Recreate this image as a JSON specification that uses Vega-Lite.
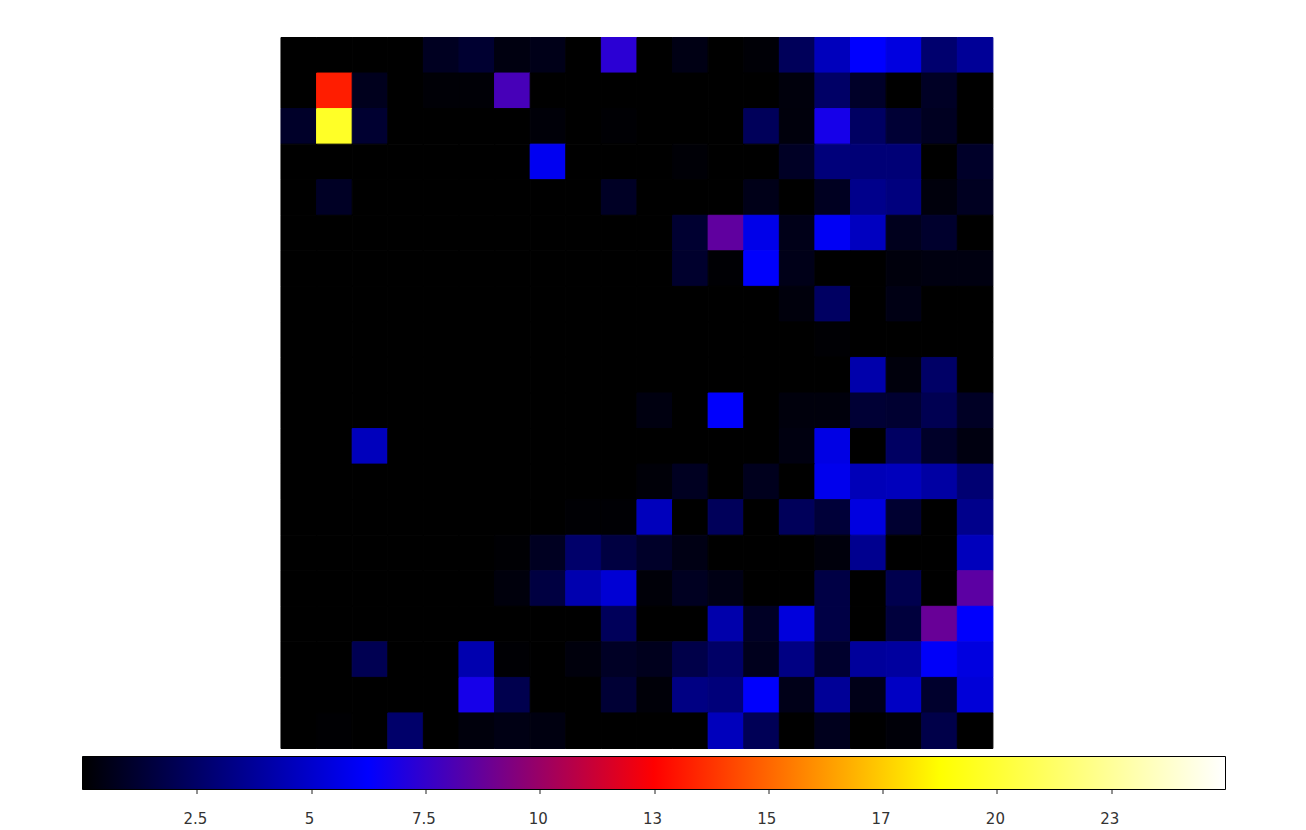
{
"$schema":"https://vega.github.io/schema/vega-lite/v6.json",
"background":"white",
"padding":{"left":81.5,"top":36.5,"right":0,"bottom":0},
"spacing":6,
"config":{"view":{"stroke":null}},
"vconcat":[
{"width":1143,"height":711,
"data":{"values":[
{"r":0,"c":0,"v":0},{"r":0,"c":1,"v":0},{"r":0,"c":2,"v":0},{"r":0,"c":3,"v":0},{"r":0,"c":4,"v":0.8},{"r":0,"c":5,"v":1.2},{"r":0,"c":6,"v":0.4},{"r":0,"c":7,"v":0.6},{"r":0,"c":8,"v":0},{"r":0,"c":9,"v":7.3},{"r":0,"c":10,"v":0},{"r":0,"c":11,"v":0.5},{"r":0,"c":12,"v":0},{"r":0,"c":13,"v":0.15},{"r":0,"c":14,"v":2.2},{"r":0,"c":15,"v":4.6},{"r":0,"c":16,"v":6.25},{"r":0,"c":17,"v":5.5},{"r":0,"c":18,"v":2.7},{"r":0,"c":19,"v":3.7},
{"r":1,"c":0,"v":0},{"r":1,"c":1,"v":13.2},{"r":1,"c":2,"v":0.7},{"r":1,"c":3,"v":0},{"r":1,"c":4,"v":0.15},{"r":1,"c":5,"v":0.15},{"r":1,"c":6,"v":8},{"r":1,"c":7,"v":0},{"r":1,"c":8,"v":0},{"r":1,"c":9,"v":0},{"r":1,"c":10,"v":0},{"r":1,"c":11,"v":0},{"r":1,"c":12,"v":0},{"r":1,"c":13,"v":0},{"r":1,"c":14,"v":0.3},{"r":1,"c":15,"v":2.5},{"r":1,"c":16,"v":1},{"r":1,"c":17,"v":0},{"r":1,"c":18,"v":0.9},{"r":1,"c":19,"v":0},
{"r":2,"c":0,"v":1},{"r":2,"c":1,"v":19.7},{"r":2,"c":2,"v":1.2},{"r":2,"c":3,"v":0},{"r":2,"c":4,"v":0},{"r":2,"c":5,"v":0},{"r":2,"c":6,"v":0},{"r":2,"c":7,"v":0.2},{"r":2,"c":8,"v":0},{"r":2,"c":9,"v":0.1},{"r":2,"c":10,"v":0},{"r":2,"c":11,"v":0},{"r":2,"c":12,"v":0},{"r":2,"c":13,"v":2.2},{"r":2,"c":14,"v":0.3},{"r":2,"c":15,"v":6.8},{"r":2,"c":16,"v":2.4},{"r":2,"c":17,"v":1.3},{"r":2,"c":18,"v":0.8},{"r":2,"c":19,"v":0},
{"r":3,"c":0,"v":0},{"r":3,"c":1,"v":0},{"r":3,"c":2,"v":0},{"r":3,"c":3,"v":0},{"r":3,"c":4,"v":0},{"r":3,"c":5,"v":0},{"r":3,"c":6,"v":0},{"r":3,"c":7,"v":5.9},{"r":3,"c":8,"v":0},{"r":3,"c":9,"v":0},{"r":3,"c":10,"v":0},{"r":3,"c":11,"v":0.15},{"r":3,"c":12,"v":0},{"r":3,"c":13,"v":0},{"r":3,"c":14,"v":0.9},{"r":3,"c":15,"v":3},{"r":3,"c":16,"v":2.9},{"r":3,"c":17,"v":2.9},{"r":3,"c":18,"v":0},{"r":3,"c":19,"v":1},
{"r":4,"c":0,"v":0},{"r":4,"c":1,"v":0.9},{"r":4,"c":2,"v":0},{"r":4,"c":3,"v":0},{"r":4,"c":4,"v":0},{"r":4,"c":5,"v":0},{"r":4,"c":6,"v":0},{"r":4,"c":7,"v":0},{"r":4,"c":8,"v":0},{"r":4,"c":9,"v":0.9},{"r":4,"c":10,"v":0},{"r":4,"c":11,"v":0},{"r":4,"c":12,"v":0},{"r":4,"c":13,"v":0.6},{"r":4,"c":14,"v":0},{"r":4,"c":15,"v":0.8},{"r":4,"c":16,"v":3.4},{"r":4,"c":17,"v":3.1},{"r":4,"c":18,"v":0.3},{"r":4,"c":19,"v":0.8},
{"r":5,"c":0,"v":0},{"r":5,"c":1,"v":0},{"r":5,"c":2,"v":0},{"r":5,"c":3,"v":0},{"r":5,"c":4,"v":0},{"r":5,"c":5,"v":0},{"r":5,"c":6,"v":0},{"r":5,"c":7,"v":0},{"r":5,"c":8,"v":0},{"r":5,"c":9,"v":0},{"r":5,"c":10,"v":0},{"r":5,"c":11,"v":1.2},{"r":5,"c":12,"v":8.6},{"r":5,"c":13,"v":5.7},{"r":5,"c":14,"v":0.6},{"r":5,"c":15,"v":6},{"r":5,"c":16,"v":4.7},{"r":5,"c":17,"v":0.7},{"r":5,"c":18,"v":1.1},{"r":5,"c":19,"v":0},
{"r":6,"c":0,"v":0},{"r":6,"c":1,"v":0},{"r":6,"c":2,"v":0},{"r":6,"c":3,"v":0},{"r":6,"c":4,"v":0},{"r":6,"c":5,"v":0},{"r":6,"c":6,"v":0},{"r":6,"c":7,"v":0},{"r":6,"c":8,"v":0},{"r":6,"c":9,"v":0},{"r":6,"c":10,"v":0},{"r":6,"c":11,"v":1.1},{"r":6,"c":12,"v":0.1},{"r":6,"c":13,"v":6.2},{"r":6,"c":14,"v":0.6},{"r":6,"c":15,"v":0},{"r":6,"c":16,"v":0},{"r":6,"c":17,"v":0.3},{"r":6,"c":18,"v":0.4},{"r":6,"c":19,"v":0.4},
{"r":7,"c":0,"v":0},{"r":7,"c":1,"v":0},{"r":7,"c":2,"v":0},{"r":7,"c":3,"v":0},{"r":7,"c":4,"v":0},{"r":7,"c":5,"v":0},{"r":7,"c":6,"v":0},{"r":7,"c":7,"v":0},{"r":7,"c":8,"v":0},{"r":7,"c":9,"v":0},{"r":7,"c":10,"v":0},{"r":7,"c":11,"v":0},{"r":7,"c":12,"v":0},{"r":7,"c":13,"v":0},{"r":7,"c":14,"v":0.3},{"r":7,"c":15,"v":2.4},{"r":7,"c":16,"v":0},{"r":7,"c":17,"v":0.5},{"r":7,"c":18,"v":0},{"r":7,"c":19,"v":0},
{"r":8,"c":0,"v":0},{"r":8,"c":1,"v":0},{"r":8,"c":2,"v":0},{"r":8,"c":3,"v":0},{"r":8,"c":4,"v":0},{"r":8,"c":5,"v":0},{"r":8,"c":6,"v":0},{"r":8,"c":7,"v":0},{"r":8,"c":8,"v":0},{"r":8,"c":9,"v":0},{"r":8,"c":10,"v":0},{"r":8,"c":11,"v":0},{"r":8,"c":12,"v":0},{"r":8,"c":13,"v":0},{"r":8,"c":14,"v":0},{"r":8,"c":15,"v":0.1},{"r":8,"c":16,"v":0},{"r":8,"c":17,"v":0},{"r":8,"c":18,"v":0},{"r":8,"c":19,"v":0},
{"r":9,"c":0,"v":0},{"r":9,"c":1,"v":0},{"r":9,"c":2,"v":0},{"r":9,"c":3,"v":0},{"r":9,"c":4,"v":0},{"r":9,"c":5,"v":0},{"r":9,"c":6,"v":0},{"r":9,"c":7,"v":0},{"r":9,"c":8,"v":0},{"r":9,"c":9,"v":0},{"r":9,"c":10,"v":0},{"r":9,"c":11,"v":0},{"r":9,"c":12,"v":0},{"r":9,"c":13,"v":0},{"r":9,"c":14,"v":0},{"r":9,"c":15,"v":0},{"r":9,"c":16,"v":4.2},{"r":9,"c":17,"v":0.3},{"r":9,"c":18,"v":2.5},{"r":9,"c":19,"v":0},
{"r":10,"c":0,"v":0},{"r":10,"c":1,"v":0},{"r":10,"c":2,"v":0},{"r":10,"c":3,"v":0},{"r":10,"c":4,"v":0},{"r":10,"c":5,"v":0},{"r":10,"c":6,"v":0},{"r":10,"c":7,"v":0},{"r":10,"c":8,"v":0},{"r":10,"c":9,"v":0},{"r":10,"c":10,"v":0.4},{"r":10,"c":11,"v":0},{"r":10,"c":12,"v":6.2},{"r":10,"c":13,"v":0},{"r":10,"c":14,"v":0.3},{"r":10,"c":15,"v":0.3},{"r":10,"c":16,"v":1.3},{"r":10,"c":17,"v":1.2},{"r":10,"c":18,"v":2},{"r":10,"c":19,"v":0.9},
{"r":11,"c":0,"v":0},{"r":11,"c":1,"v":0},{"r":11,"c":2,"v":4.6},{"r":11,"c":3,"v":0},{"r":11,"c":4,"v":0},{"r":11,"c":5,"v":0},{"r":11,"c":6,"v":0},{"r":11,"c":7,"v":0},{"r":11,"c":8,"v":0},{"r":11,"c":9,"v":0},{"r":11,"c":10,"v":0},{"r":11,"c":11,"v":0},{"r":11,"c":12,"v":0},{"r":11,"c":13,"v":0},{"r":11,"c":14,"v":0.4},{"r":11,"c":15,"v":5.6},{"r":11,"c":16,"v":0},{"r":11,"c":17,"v":2.4},{"r":11,"c":18,"v":1},{"r":11,"c":19,"v":0.4},
{"r":12,"c":0,"v":0},{"r":12,"c":1,"v":0},{"r":12,"c":2,"v":0},{"r":12,"c":3,"v":0},{"r":12,"c":4,"v":0},{"r":12,"c":5,"v":0},{"r":12,"c":6,"v":0},{"r":12,"c":7,"v":0},{"r":12,"c":8,"v":0},{"r":12,"c":9,"v":0},{"r":12,"c":10,"v":0.2},{"r":12,"c":11,"v":0.8},{"r":12,"c":12,"v":0},{"r":12,"c":13,"v":0.7},{"r":12,"c":14,"v":0},{"r":12,"c":15,"v":5.8},{"r":12,"c":16,"v":4.5},{"r":12,"c":17,"v":4.6},{"r":12,"c":18,"v":4},{"r":12,"c":19,"v":2.8},
{"r":13,"c":0,"v":0},{"r":13,"c":1,"v":0},{"r":13,"c":2,"v":0},{"r":13,"c":3,"v":0},{"r":13,"c":4,"v":0},{"r":13,"c":5,"v":0},{"r":13,"c":6,"v":0},{"r":13,"c":7,"v":0},{"r":13,"c":8,"v":0.1},{"r":13,"c":9,"v":0.1},{"r":13,"c":10,"v":4.6},{"r":13,"c":11,"v":0},{"r":13,"c":12,"v":2.2},{"r":13,"c":13,"v":0},{"r":13,"c":14,"v":2.2},{"r":13,"c":15,"v":1.4},{"r":13,"c":16,"v":5.5},{"r":13,"c":17,"v":1.2},{"r":13,"c":18,"v":0},{"r":13,"c":19,"v":3.4},
{"r":14,"c":0,"v":0},{"r":14,"c":1,"v":0},{"r":14,"c":2,"v":0},{"r":14,"c":3,"v":0},{"r":14,"c":4,"v":0},{"r":14,"c":5,"v":0},{"r":14,"c":6,"v":0.1},{"r":14,"c":7,"v":0.8},{"r":14,"c":8,"v":2.6},{"r":14,"c":9,"v":1.6},{"r":14,"c":10,"v":1},{"r":14,"c":11,"v":0.5},{"r":14,"c":12,"v":0},{"r":14,"c":13,"v":0},{"r":14,"c":14,"v":0},{"r":14,"c":15,"v":0.3},{"r":14,"c":16,"v":3.5},{"r":14,"c":17,"v":0},{"r":14,"c":18,"v":0},{"r":14,"c":19,"v":4.6},
{"r":15,"c":0,"v":0},{"r":15,"c":1,"v":0},{"r":15,"c":2,"v":0},{"r":15,"c":3,"v":0},{"r":15,"c":4,"v":0},{"r":15,"c":5,"v":0},{"r":15,"c":6,"v":0.3},{"r":15,"c":7,"v":1.6},{"r":15,"c":8,"v":4.3},{"r":15,"c":9,"v":5.2},{"r":15,"c":10,"v":0.2},{"r":15,"c":11,"v":0.8},{"r":15,"c":12,"v":0.5},{"r":15,"c":13,"v":0},{"r":15,"c":14,"v":0},{"r":15,"c":15,"v":1.7},{"r":15,"c":16,"v":0},{"r":15,"c":17,"v":1.9},{"r":15,"c":18,"v":0},{"r":15,"c":19,"v":8.5},
{"r":16,"c":0,"v":0},{"r":16,"c":1,"v":0},{"r":16,"c":2,"v":0},{"r":16,"c":3,"v":0},{"r":16,"c":4,"v":0},{"r":16,"c":5,"v":0},{"r":16,"c":6,"v":0},{"r":16,"c":7,"v":0},{"r":16,"c":8,"v":0},{"r":16,"c":9,"v":2.2},{"r":16,"c":10,"v":0},{"r":16,"c":11,"v":0},{"r":16,"c":12,"v":4.2},{"r":16,"c":13,"v":0.9},{"r":16,"c":14,"v":5.4},{"r":16,"c":15,"v":1.7},{"r":16,"c":16,"v":0},{"r":16,"c":17,"v":1.5},{"r":16,"c":18,"v":8.8},{"r":16,"c":19,"v":6.2},
{"r":17,"c":0,"v":0},{"r":17,"c":1,"v":0},{"r":17,"c":2,"v":2},{"r":17,"c":3,"v":0},{"r":17,"c":4,"v":0},{"r":17,"c":5,"v":4.3},{"r":17,"c":6,"v":0.1},{"r":17,"c":7,"v":0},{"r":17,"c":8,"v":0.3},{"r":17,"c":9,"v":0.9},{"r":17,"c":10,"v":0.7},{"r":17,"c":11,"v":1.8},{"r":17,"c":12,"v":2.5},{"r":17,"c":13,"v":0.7},{"r":17,"c":14,"v":3.2},{"r":17,"c":15,"v":1.1},{"r":17,"c":16,"v":3.8},{"r":17,"c":17,"v":3.9},{"r":17,"c":18,"v":6.1},{"r":17,"c":19,"v":5.5},
{"r":18,"c":0,"v":0},{"r":18,"c":1,"v":0},{"r":18,"c":2,"v":0},{"r":18,"c":3,"v":0},{"r":18,"c":4,"v":0},{"r":18,"c":5,"v":6.8},{"r":18,"c":6,"v":1.9},{"r":18,"c":7,"v":0},{"r":18,"c":8,"v":0},{"r":18,"c":9,"v":1.3},{"r":18,"c":10,"v":0.2},{"r":18,"c":11,"v":3.2},{"r":18,"c":12,"v":3},{"r":18,"c":13,"v":6.2},{"r":18,"c":14,"v":0.6},{"r":18,"c":15,"v":3.7},{"r":18,"c":16,"v":0.6},{"r":18,"c":17,"v":4.8},{"r":18,"c":18,"v":1.1},{"r":18,"c":19,"v":5.3},
{"r":19,"c":0,"v":0},{"r":19,"c":1,"v":0.08},{"r":19,"c":2,"v":0},{"r":19,"c":3,"v":2.6},{"r":19,"c":4,"v":0},{"r":19,"c":5,"v":0.3},{"r":19,"c":6,"v":0.5},{"r":19,"c":7,"v":0.4},{"r":19,"c":8,"v":0},{"r":19,"c":9,"v":0},{"r":19,"c":10,"v":0},{"r":19,"c":11,"v":0},{"r":19,"c":12,"v":4.6},{"r":19,"c":13,"v":2.1},{"r":19,"c":14,"v":0},{"r":19,"c":15,"v":0.7},{"r":19,"c":16,"v":0},{"r":19,"c":17,"v":0.2},{"r":19,"c":18,"v":1.8},{"r":19,"c":19,"v":0}
]},
"mark":{"type":"rect","width":35.6,"strokeWidth":1},
"encoding":{
"x":{"field":"c","type":"quantitative","axis":null,"scale":{"domain":[-6.076,26.034],"nice":false,"zero":false}},
"y":{"field":"r","type":"ordinal","axis":null,"scale":{"paddingInner":0,"paddingOuter":0}},
"color":{"field":"v","type":"quantitative","legend":null,"scale":{"domain":[0,6.25,12.5,18.75,25],"range":["#000000","#0000ff","#ff0000","#ffff00","#ffffff"],"interpolate":"rgb"}},
"stroke":{"field":"v","type":"quantitative","legend":null,"scale":{"domain":[0,6.25,12.5,18.75,25],"range":["#000000","#0000ff","#ff0000","#ffff00","#ffffff"],"interpolate":"rgb"}}
}},
{"width":1143,"height":33,
"data":{"values":[{"from":0,"to":25}]},
"mark":{"type":"rect","stroke":"#000000","strokeWidth":1,
"fill":{"gradient":"linear","x1":0,"y1":0,"x2":1,"y2":0,"stops":[{"offset":0,"color":"#000000"},{"offset":0.25,"color":"#0000ff"},{"offset":0.5,"color":"#ff0000"},{"offset":0.75,"color":"#ffff00"},{"offset":1,"color":"#ffffff"}]}},
"encoding":{
"x":{"field":"from","type":"quantitative","title":null,"scale":{"domain":[0,25],"nice":false},
"axis":{"values":[2.5,5,7.5,10,12.5,15,17.5,20,22.5],"grid":false,"domain":false,"tickColor":"#222222","tickSize":4,"labelPadding":18,"labelOffset":-2,"labelFont":"DejaVu Sans","labelFontSize":15,"labelColor":"#333333","labelFlush":false,
"labelExpr":"datum.value==12.5?'13':datum.value==17.5?'17':datum.value==22.5?'23':format(datum.value,'')"}},
"x2":{"field":"to"}
}}
]
}
